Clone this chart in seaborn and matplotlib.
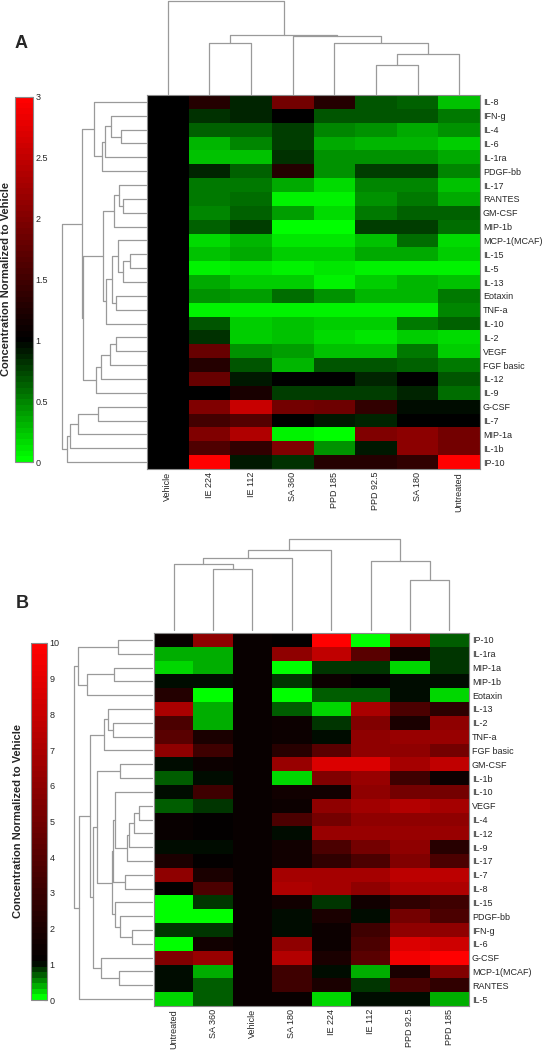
import numpy as np
import pandas as pd
import seaborn as sns
import matplotlib
matplotlib.use("Agg")
import matplotlib.pyplot as plt
from matplotlib.colors import LinearSegmentedColormap

# ---------------- panel A data ----------------
a_cols = ['Vehicle', 'IE 224', 'IE 112', 'SA 360', 'PPD 185', 'PPD 92.5', 'SA 180', 'Untreated']
a_rows = ['IL-8', 'IFN-g', 'IL-4', 'IL-6', 'IL-1ra', 'PDGF-bb', 'IL-17', 'RANTES', 'GM-CSF',
          'MIP-1b', 'MCP-1(MCAF)', 'IL-15', 'IL-5', 'IL-13', 'Eotaxin', 'TNF-a', 'IL-10', 'IL-2',
          'VEGF', 'FGF basic', 'IL-12', 'IL-9', 'G-CSF', 'IL-7', 'MIP-1a', 'IL-1b', 'IP-10']
a_vehicle = [1.0, 1.0, 1.0, 1.0, 1.0, 1.0, 1.0, 1.0, 1.0, 1.0, 1.0, 1.0, 1.0, 1.0,
             1.0, 1.0, 1.0, 1.0, 1.0, 1.0, 1.0, 1.0, 1.0, 1.0, 1.0, 1.0, 1.0]
a_ie224 = [1.3, 0.8, 0.65, 0.3, 0.27, 0.85, 0.55, 0.55, 0.5, 0.62, 0.15, 0.25, 0.05, 0.35,
           0.45, 0.05, 0.7, 0.82, 1.8, 1.3, 1.8, 1.02, 2.0, 1.5, 2.0, 1.6, 3.0]
a_ie112 = [0.88, 0.88, 0.65, 0.5, 0.25, 0.62, 0.55, 0.58, 0.62, 0.75, 0.3, 0.35, 0.1, 0.22,
           0.4, 0.08, 0.22, 0.22, 0.45, 0.7, 0.93, 1.2, 2.55, 1.65, 2.35, 1.4, 0.9]
a_sa360 = [1.9, 1.0, 0.75, 0.75, 0.8, 1.3, 0.35, 0.05, 0.4, 0.0, 0.1, 0.2, 0.05, 0.2,
           0.6, 0.05, 0.28, 0.25, 0.4, 0.3, 1.0, 0.78, 1.9, 1.0, 0.05, 2.0, 0.8]
a_ppd185 = [1.3, 0.7, 0.5, 0.35, 0.45, 0.45, 0.15, 0.08, 0.15, 0.0, 0.1, 0.2, 0.1, 0.05,
            0.45, 0.05, 0.22, 0.15, 0.25, 0.7, 1.0, 0.78, 1.85, 0.9, 0.03, 0.45, 1.3]
a_ppd925 = [0.7, 0.7, 0.45, 0.3, 0.45, 0.75, 0.5, 0.45, 0.55, 0.75, 0.25, 0.35, 0.06, 0.2,
            0.3, 0.07, 0.22, 0.13, 0.25, 0.7, 0.85, 0.78, 1.4, 0.87, 2.0, 0.9, 1.3]
a_sa180 = [0.65, 0.7, 0.35, 0.3, 0.45, 0.75, 0.5, 0.55, 0.65, 0.78, 0.6, 0.33, 0.08, 0.3,
           0.3, 0.07, 0.55, 0.2, 0.55, 0.65, 1.0, 0.85, 0.95, 1.0, 2.1, 2.1, 1.4]
a_untreated = [0.25, 0.55, 0.45, 0.2, 0.35, 0.5, 0.25, 0.35, 0.62, 0.58, 0.15, 0.2, 0.05, 0.28,
               0.55, 0.5, 0.65, 0.15, 0.2, 0.55, 0.7, 0.6, 0.95, 1.0, 1.9, 1.9, 3.0]
a_ticks = [0, 0.5, 1, 1.5, 2, 2.5, 3]

# tree merges (child, child, height), leaves numbered in display order
a_col_merges = [(5, 6, 85), (8, 7, 120), (4, 9, 152), (1, 2, 152), (3, 10, 173),
                (11, 12, 178), (0, 13, 282)]
a_row_merges = [(2, 3, 77), (1, 27, 107), (28, 4, 125), (29, 5, 133), (0, 30, 157),
                (7, 8, 70), (6, 32, 83), (33, 9, 97),
                (11, 12, 50), (35, 13, 70), (10, 36, 85), (14, 15, 90), (37, 38, 103),
                (39, 16, 120), (34, 40, 130),
                (17, 18, 90), (42, 19, 110), (43, 20, 138), (44, 21, 152),
                (41, 45, 192), (31, 46, 195),
                (22, 23, 145), (48, 24, 205), (49, 25, 230), (50, 26, 240), (47, 51, 255)]

# ---------------- panel B data ----------------
b_cols = ['Untreated', 'SA 360', 'Vehicle', 'SA 180', 'IE 224', 'IE 112', 'PPD 92.5', 'PPD 185']
b_rows = ['IP-10', 'IL-1ra', 'MIP-1a', 'MIP-1b', 'Eotaxin', 'IL-13', 'IL-2', 'TNF-a', 'FGF basic',
          'GM-CSF', 'IL-1b', 'IL-10', 'VEGF', 'IL-4', 'IL-12', 'IL-9', 'IL-17', 'IL-7', 'IL-8',
          'IL-15', 'PDGF-bb', 'IFN-g', 'IL-6', 'G-CSF', 'MCP-1(MCAF)', 'RANTES', 'IL-5']
b_untreated = [1.4, 0.45, 0.25, 1.0, 2.3, 6.9, 3.7, 4.1, 6.0, 1.05, 0.7, 1.0, 0.65, 1.35,
               1.35, 1.0, 1.9, 6.0, 1.15, 0.1, 0.1, 0.88, 0.15, 5.5, 1.0, 1.0, 0.2]
b_sa360 = [6.0, 0.45, 0.45, 1.0, 0.05, 0.45, 0.45, 1.9, 3.25, 1.45, 1.0, 3.25, 0.88, 1.15,
           1.15, 1.0, 1.15, 1.9, 3.7, 0.88, 0.1, 0.88, 1.7, 6.4, 0.45, 0.65, 0.65]
b_vehicle = [1.4, 1.4, 1.4, 1.4, 1.4, 1.4, 1.4, 1.4, 1.4, 1.4, 1.4, 1.4, 1.4, 1.4,
             1.4, 1.4, 1.4, 1.4, 1.4, 1.4, 1.4, 1.4, 1.4, 1.4, 1.4, 1.4, 1.4]
b_sa180 = [1.1, 6.0, 0.0, 0.9, 0.05, 0.72, 1.45, 1.45, 2.35, 6.4, 0.2, 1.7, 1.45, 3.7,
           1.0, 1.7, 1.7, 6.85, 7.1, 1.7, 1.0, 1.0, 6.0, 7.3, 3.25, 3.25, 1.25]
b_ie224 = [10.0, 7.8, 0.88, 1.45, 0.7, 0.25, 0.88, 1.0, 4.15, 8.6, 5.5, 1.7, 6.0, 5.05,
           6.4, 3.7, 2.8, 6.85, 6.85, 0.88, 1.9, 1.45, 1.45, 1.9, 1.0, 1.9, 0.2]
b_ie112 = [0.05, 4.2, 0.88, 1.15, 0.7, 6.9, 5.5, 6.0, 6.0, 8.65, 6.4, 6.0, 6.6, 6.0,
           6.4, 5.0, 3.7, 6.85, 6.0, 1.7, 1.0, 3.25, 3.7, 4.15, 0.45, 0.85, 1.0]
b_ppd925 = [6.9, 1.7, 0.22, 1.0, 1.0, 3.7, 1.9, 6.4, 6.0, 6.85, 3.25, 5.0, 7.3, 6.0,
            6.4, 6.0, 5.5, 7.5, 7.1, 2.8, 5.0, 6.0, 8.65, 9.5, 1.9, 3.5, 1.0]
b_ppd185 = [0.7, 0.85, 0.88, 1.0, 0.25, 2.6, 5.95, 6.4, 5.05, 7.75, 1.45, 5.0, 6.85, 6.0,
            6.4, 2.35, 3.7, 7.5, 7.1, 3.25, 3.7, 6.0, 8.2, 10.0, 5.5, 2.8, 0.45]
b_ticks = [0, 1, 2, 3, 4, 5, 6, 7, 8, 9, 10]

b_col_merges = [(1, 2, 182), (0, 8, 197), (9, 3, 215), (10, 4, 240), (6, 7, 148),
                (5, 12, 207), (11, 13, 272)]
b_row_merges = [(0, 1, 103), (2, 3, 113), (28, 4, 195), (27, 29, 220),
                (6, 7, 117), (5, 31, 132), (32, 8, 142),
                (9, 10, 95),
                (12, 13, 38), (35, 14, 55), (36, 15, 70), (37, 16, 75), (11, 38, 112),
                (17, 18, 80), (39, 40, 117),
                (21, 22, 60), (20, 42, 95), (19, 43, 112), (41, 44, 120),
                (34, 45, 163),
                (24, 25, 100), (23, 47, 152), (46, 48, 175), (33, 49, 185),
                (50, 26, 217), (30, 51, 233)]

df_a = pd.DataFrame({'Vehicle': a_vehicle, 'IE 224': a_ie224, 'IE 112': a_ie112,
                     'SA 360': a_sa360, 'PPD 185': a_ppd185, 'PPD 92.5': a_ppd925,
                     'SA 180': a_sa180, 'Untreated': a_untreated}, index=a_rows)[a_cols]
df_b = pd.DataFrame({'Untreated': b_untreated, 'SA 360': b_sa360, 'Vehicle': b_vehicle,
                     'SA 180': b_sa180, 'IE 224': b_ie224, 'IE 112': b_ie112,
                     'PPD 92.5': b_ppd925, 'PPD 185': b_ppd185}, index=b_rows)[b_cols]

sns.set_style("white")
plt.rcParams['font.family'] = ['Liberation Sans', 'DejaVu Sans']

W, H = 542, 1050
fig = plt.figure(figsize=(W / 100, H / 100), dpi=100)


def px_axes(x0, y0, x1, y1):
    return fig.add_axes([x0 / W, 1 - y1 / H, (x1 - x0) / W, (y1 - y0) / H])


def green_black_red(vmin, vmax):
    mid = (1.0 - vmin) / (vmax - vmin)
    return LinearSegmentedColormap.from_list(
        'gkr', [(0, '#00ff00'), (mid, '#000000'), (1, '#ff0000')], N=64)


def draw_tree(ax, merges, n, side):
    pos = {i: i + 0.5 for i in range(n)}
    hgt = {i: 0.0 for i in range(n)}
    for k, (a, b, h) in enumerate(merges):
        xs = [pos[a], pos[a], pos[b], pos[b]]
        ys = [hgt[a], h, h, hgt[b]]
        if side == 'top':
            ax.plot(xs, ys, color='#9a9a9a', lw=0.9, clip_on=False)
        else:
            ax.plot(ys, xs, color='#9a9a9a', lw=0.9, clip_on=False)
        pos[n + k] = (pos[a] + pos[b]) / 2
        hgt[n + k] = h
    top = max(m[2] for m in merges)
    if side == 'top':
        ax.set_xlim(0, n)
        ax.set_ylim(0, top)
    else:
        ax.set_xlim(top, 0)
        ax.set_ylim(n, 0)
    ax.axis('off')


def panel(df, vmin, vmax, ticks, tick_fmt, heat, top, left, cbar, letter, label_x,
          col_merges, row_merges):
    ax = px_axes(*heat)
    cax = px_axes(*cbar)
    sns.heatmap(df, ax=ax, cmap=green_black_red(vmin, vmax), vmin=vmin, vmax=vmax,
                cbar_ax=cax, xticklabels=True, yticklabels=True)
    ax.yaxis.tick_right()
    ax.set_yticklabels(df.index, rotation=0, fontsize=6.5)
    ax.set_xticklabels(df.columns, rotation=90, fontsize=6.5)
    ax.tick_params(axis='both', length=0, pad=2)
    ax.set_xlabel('')
    ax.set_ylabel('')
    for sp in ax.spines.values():
        sp.set_visible(True)
        sp.set_color('#8a8a8a')
        sp.set_linewidth(0.8)

    cb = ax.collections[0].colorbar
    cb.set_ticks(ticks)
    cb.set_ticklabels([tick_fmt(t) for t in ticks])
    cb.ax.tick_params(labelsize=6.5, length=2.5, direction='in', color='#444444', pad=2)
    cb.outline.set_edgecolor('#8a8a8a')
    cb.outline.set_linewidth(0.8)

    draw_tree(px_axes(*top), col_merges, df.shape[1], 'top')
    draw_tree(px_axes(*left), row_merges, df.shape[0], 'left')

    fig.text(letter[0] / W, 1 - letter[1] / H, letter[2], fontsize=13, fontweight='bold',
             ha='center', va='center')
    fig.text(label_x / W, 1 - (cbar[1] + cbar[3]) / 2 / H, 'Concentration Normalized to Vehicle',
             rotation=90, fontsize=8, fontweight='bold', ha='center', va='center')


panel(df_a, 0, 3, a_ticks, lambda t: f'{t:g}',
      heat=(147, 95, 480, 469), top=(147, 0.5, 480, 93.5), left=(62, 95, 146, 469),
      cbar=(15, 97, 33, 462), letter=(21, 43, 'A'), label_x=6,
      col_merges=a_col_merges, row_merges=a_row_merges)

panel(df_b, 0, 10, b_ticks, lambda t: f'{t:g}',
      heat=(154, 633, 469, 1006), top=(154, 539, 469, 630), left=(74, 633, 152, 1006),
      cbar=(31, 643, 47, 1000), letter=(22, 603, 'B'), label_x=18,
      col_merges=b_col_merges, row_merges=b_row_merges)

fig.savefig('out.png', dpi=100)
